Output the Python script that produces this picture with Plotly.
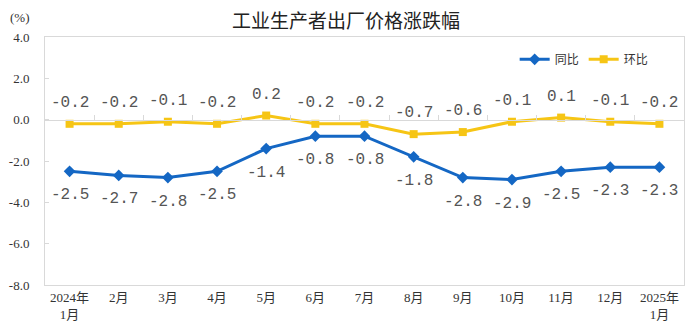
import plotly.graph_objects as go

# 工业生产者出厂价格涨跌幅（%）
months = ["2024年<br>1月", "2月", "3月", "4月", "5月", "6月", "7月",
          "8月", "9月", "10月", "11月", "12月", "2025年<br>1月"]
yoy = [-2.5, -2.7, -2.8, -2.5, -1.4, -0.8, -0.8, -1.8, -2.8, -2.9, -2.5, -2.3, -2.3]
mom = [-0.2, -0.2, -0.1, -0.2, 0.2, -0.2, -0.2, -0.7, -0.6, -0.1, 0.1, -0.1, -0.2]
y_ticks = [4.0, 2.0, 0.0, -2.0, -4.0, -6.0, -8.0]
y_tick_text = ["4.0", "2.0", "0.0", "-2.0", "-4.0", "-6.0", "-8.0"]

BLUE = "#1467C4"
YELLOW = "#F6C515"
AXIS_GRAY = "#d9d9d9"
SERIF = "Liberation Serif, Noto Sans CJK SC, serif"
LABEL_FONT = dict(family="Liberation Mono, monospace", size=16, color="#555555")

fig = go.Figure()

fig.add_trace(go.Scatter(
    x=months, y=yoy, name="同比", mode="lines+markers",
    line=dict(color=BLUE, width=3),
    marker=dict(symbol="diamond", size=9, color=BLUE),
))
fig.add_trace(go.Scatter(
    x=months, y=mom, name="环比", mode="lines+markers",
    line=dict(color=YELLOW, width=3),
    marker=dict(symbol="square", size=8, color=YELLOW),
))
# carrier trace for the category axis drawn through zero
fig.add_trace(go.Scatter(
    x=months, y=[None] * len(months), xaxis="x2", yaxis="y",
    showlegend=False, hoverinfo="skip", mode="markers",
))

annotations = []
for m, v in zip(months, yoy):
    annotations.append(dict(x=m, y=v, text=f"{v:.1f}", showarrow=False,
                            yshift=-24, font=LABEL_FONT))
for m, v in zip(months, mom):
    annotations.append(dict(x=m, y=v, text=f"{v:.1f}", showarrow=False,
                            yshift=21, font=LABEL_FONT))

annotations.append(dict(text="(%)", xref="paper", yref="paper", x=-0.058, y=1.08,
                        xanchor="left", yanchor="middle", showarrow=False,
                        font=dict(family=SERIF, size=13, color="#333333")))

fig.update_layout(
    width=692, height=336,
    margin=dict(l=45, r=8, t=37, b=51),
    paper_bgcolor="white", plot_bgcolor="white",
    title=dict(text="工业生产者出厂价格涨跌幅", x=0.5, xanchor="center",
               y=1 - 21 / 336, yanchor="middle",
               font=dict(family="Noto Sans CJK SC", size=19, color="#222222")),
    showlegend=True,
    legend=dict(orientation="h", x=0.735, y=0.91, xanchor="left", yanchor="middle",
                font=dict(family="Noto Sans CJK SC", size=12, color="#333333"),
                bgcolor="rgba(0,0,0,0)", itemwidth=30, tracegroupgap=0),
    xaxis=dict(type="category", showgrid=False, showline=True, linecolor=AXIS_GRAY,
               mirror=True, ticks="", tickfont=dict(family=SERIF, size=13, color="#333333"),
               range=[-0.5, 12.5]),
    xaxis2=dict(type="category", overlaying="x", matches="x", anchor="free",
                position=2 / 3, showgrid=False, showline=True, linecolor=AXIS_GRAY,
                ticks="inside", tickson="boundaries", ticklen=5, tickcolor=AXIS_GRAY,
                showticklabels=False),
    yaxis=dict(range=[-8, 4], tickvals=y_ticks, ticktext=y_tick_text,
               showgrid=False, zeroline=False, showline=True, linecolor=AXIS_GRAY,
               mirror=True, ticks="inside", ticklen=4, tickcolor=AXIS_GRAY,
               ticklabelstandoff=12,
               tickfont=dict(family=SERIF, size=13, color="#333333")),
    annotations=annotations,
)

fig.write_html("out.html")
